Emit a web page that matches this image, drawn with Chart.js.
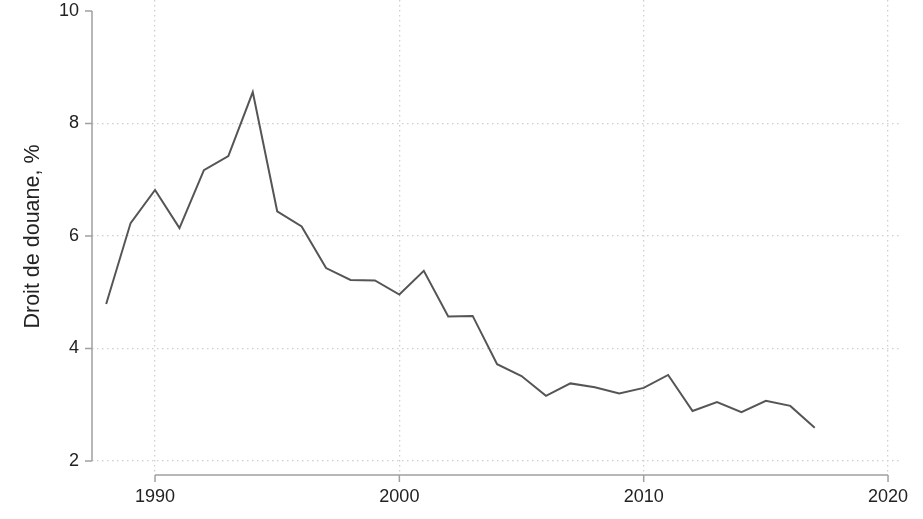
<!DOCTYPE html>
<html>
<head>
<meta charset="utf-8">
<script src="https://cdn.jsdelivr.net/npm/chart.js@4/dist/chart.umd.min.js"></script>
<style>
  html, body { margin: 0; padding: 0; background: #fff; }
  #wrap { width: 923px; height: 519px; }
</style>
</head>
<body>
<div id="wrap"><canvas id="tariffChart"></canvas></div>
<script>
// Données
const years = [1988, 1989, 1990, 1991, 1992, 1993, 1994, 1995, 1996, 1997,
               1998, 1999, 2000, 2001, 2002, 2003, 2004, 2005, 2006, 2007,
               2008, 2009, 2010, 2011, 2012, 2013, 2014, 2015, 2016, 2017];
const droitDouane = [4.79, 6.23, 6.82, 6.14, 7.17, 7.42, 8.56, 6.44, 6.17, 5.43,
                     5.22, 5.21, 4.96, 5.38, 4.57, 4.58, 3.72, 3.51, 3.16, 3.38,
                     3.31, 3.20, 3.30, 3.53, 2.89, 3.05, 2.87, 3.07, 2.98, 2.59];
const xTicks = [1990, 2000, 2010, 2020];
const yTicks = [2, 4, 6, 8, 10];

const axisColor = '#a0a0a0';
const fontFamily = '"Liberation Sans", Arial, Helvetica, sans-serif';

// Axes dessinés à la main (style Stata : axes décalés, limités aux graduations)
const stataAxes = {
    id: 'stataAxes',
    afterDraw(chart) {
        const { ctx, scales: { x, y }, chartArea } = chart;
        ctx.save();
        ctx.strokeStyle = axisColor;
        ctx.lineWidth = 1.5;

        // axe Y
        const ax = chartArea.left;
        const yTop = y.getPixelForValue(yTicks[yTicks.length - 1]);
        const yBot = y.getPixelForValue(yTicks[0]);
        ctx.beginPath();
        ctx.moveTo(ax, yTop);
        ctx.lineTo(ax, yBot);
        yTicks.forEach(v => {
            const py = y.getPixelForValue(v);
            ctx.moveTo(ax, py);
            ctx.lineTo(ax - 7, py);
        });
        ctx.stroke();

        // axe X
        const ay = chartArea.bottom + 2;
        const xL = x.getPixelForValue(xTicks[0]);
        const xR = x.getPixelForValue(xTicks[xTicks.length - 1]);
        ctx.beginPath();
        ctx.moveTo(xL, ay);
        ctx.lineTo(xR, ay);
        xTicks.forEach(v => {
            const px = x.getPixelForValue(v);
            ctx.moveTo(px, ay);
            ctx.lineTo(px, ay + 7);
        });
        ctx.stroke();
        ctx.restore();
    }
};

const ctx = document.getElementById('tariffChart').getContext('2d');
new Chart(ctx, {
    type: 'line',
    data: {
        datasets: [{
            label: 'Droit de douane',
            data: years.map((yr, i) => ({ x: yr, y: droitDouane[i] })),
            borderColor: '#555555',
            borderWidth: 2,
            pointRadius: 0,
            tension: 0,
            fill: false
        }]
    },
    options: {
        responsive: true,
        maintainAspectRatio: false,
        animation: false,
        layout: { padding: { top: 0, right: 23, left: 0, bottom: 0 } },
        plugins: {
            legend: { display: false },
            tooltip: { enabled: false }
        },
        scales: {
            x: {
                type: 'linear',
                min: 1987.42,
                max: 2020.49,
                afterBuildTicks: (scale) => { scale.ticks = xTicks.map(v => ({ value: v })); },
                afterFit: (scale) => {
                    scale.height = 46;
                    scale.paddingLeft = 0;
                    scale.paddingRight = 0;
                },
                grid: {
                    color: '#cfcfcf',
                    lineWidth: 1.3,
                    drawTicks: false
                },
                border: { display: false, dash: [1.5, 3.5] },
                ticks: {
                    padding: 13,
                    color: '#222',
                    maxRotation: 0,
                    font: { family: fontFamily, size: 18 },
                    callback: (v) => String(v)
                }
            },
            y: {
                min: 1.787,
                max: 10.196,
                afterBuildTicks: (scale) => { scale.ticks = yTicks.map(v => ({ value: v })); },
                afterFit: (scale) => {
                    scale.width = 92;
                    scale.paddingTop = 0;
                    scale.paddingBottom = 0;
                },
                grid: {
                    color: (c) => (c.tick && c.tick.value === 10 ? 'rgba(0,0,0,0)' : '#cfcfcf'),
                    lineWidth: 1.3,
                    drawTicks: false
                },
                border: { display: false, dash: [1.5, 3.5] },
                ticks: {
                    padding: 13,
                    color: '#222',
                    font: { family: fontFamily, size: 18 },
                    callback: (v) => String(v)
                },
                title: {
                    display: true,
                    text: 'Droit de douane, %',
                    color: '#222',
                    font: { family: fontFamily, size: 21.5 },
                    padding: { top: 20, bottom: 0 }
                }
            }
        }
    },
    plugins: [stataAxes]
});
</script>
</body>
</html>
